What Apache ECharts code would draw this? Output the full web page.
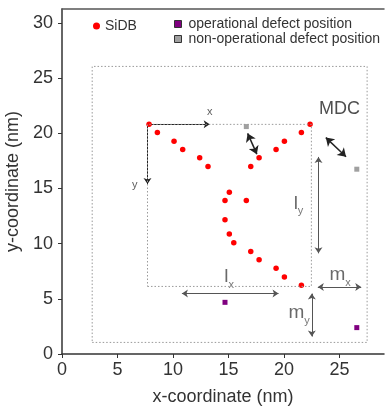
<!DOCTYPE html>
<html>
<head>
<meta charset="utf-8">
<script src="https://cdn.jsdelivr.net/npm/echarts@6/dist/echarts.min.js"></script>
<style>
  html, body { margin: 0; padding: 0; background: #fff; }
  #chart { width: 385px; height: 409px; }
</style>
</head>
<body>
<div id="chart"></div>
<script>
// SiDB positions (nm)
const sidbX = [7.84, 8.59, 10.09, 10.87, 12.4, 13.15, 17.0, 17.75, 19.28, 20.03, 21.56, 22.34,
  15.07, 14.68, 16.6, 14.68, 15.07, 15.47, 17.0, 17.75, 19.28, 20.03, 21.56];
const sidbY = [20.8, 20.06, 19.28, 18.52, 17.77, 16.99, 16.99, 17.77, 18.52, 19.28, 20.06, 20.8,
  14.66, 13.91, 13.91, 12.16, 10.86, 10.08, 9.29, 8.54, 7.76, 6.97, 6.22];

// defect positions (nm)
const operationalX = [14.68, 26.55];
const operationalY = [4.68, 2.39];
const nonOperationalX = [16.6, 26.55];
const nonOperationalY = [20.6, 16.74];

// dotted boxes: [x0, y0, x1, y1]
const outerBox = [2.72, 1.05, 27.48, 26.05];
const layoutBox = [7.7, 6.12, 22.46, 20.8];

// arrows: [x0, y0, x1, y1]
const axisArrows = [[7.7, 20.8, 13.3, 20.8], [7.7, 20.8, 7.7, 15.4]];
const mdcArrows = [[16.72, 19.98, 17.55, 18.1], [23.76, 19.6, 25.58, 17.87]];
const dimArrows = [[23.1, 17.85, 23.1, 9.12], [10.8, 5.47, 19.5, 5.47],
  [23.04, 6.06, 26.95, 6.06], [22.5, 5.47, 22.5, 1.58]];

// annotations
const smallLabels = ['x', 'y'];
const smallLabelX = [13.3, 6.55];
const smallLabelY = [21.95, 15.3];
const mdcLabel = 'MDC';
const mdcLabelPos = [25.0, 22.2];
const dimMain = ['l', 'l', 'm', 'm'];
const dimSub = ['y', 'x', 'x', 'y'];
const dimLabelX = [21.3, 15.05, 25.05, 21.35];
const dimLabelY = [13.65, 7.0, 7.2, 3.75];

const FONT = 'Liberation Sans, Arial, Helvetica, sans-serif';

function boxPath(b) {
  return [[b[0], b[1]], [b[2], b[1]], [b[2], b[3]], [b[0], b[3]], [b[0], b[1]]];
}
function arrowData(list) {
  return list.map(a => ({ coords: [[a[0], a[1]], [a[2], a[3]]] }));
}

const chart = echarts.init(document.getElementById('chart'));
chart.setOption({
  animation: false,
  backgroundColor: '#fff',
  textStyle: { fontFamily: FONT },
  grid: { left: 62, right: 1, top: 9, bottom: 55, containLabel: false, outerBoundsMode: 'none' },
  legend: [
    {
      left: 88, top: 14, itemWidth: 7, itemHeight: 7,
      textStyle: { fontSize: 14, color: '#333', fontFamily: FONT },
      data: [{ name: 'SiDB', icon: 'circle' }]
    },
    {
      left: 169, top: 12, orient: 'vertical', itemGap: 1, itemWidth: 7, itemHeight: 7,
      textStyle: { fontSize: 14, color: '#333', fontFamily: FONT, padding: [0, 0, 0, 2] },
      data: [
        { name: 'operational defect position', icon: 'rect', itemStyle: { borderColor: '#333', borderWidth: 1 } },
        { name: 'non-operational defect position', icon: 'rect', itemStyle: { borderColor: '#333', borderWidth: 1 } }
      ]
    }
  ],
  xAxis: [
    {
      type: 'value', min: 0, max: 29, interval: 5,
      name: 'x-coordinate (nm)', nameLocation: 'middle', nameGap: 34,
      nameTextStyle: { fontSize: 18, color: '#333', fontFamily: FONT },
      axisLine: { show: true, lineStyle: { color: '#333', width: 1.5 } },
      axisTick: { show: true, length: 4, lineStyle: { color: '#333' } },
      axisLabel: { fontSize: 18, color: '#333', margin: 7, showMaxLabel: false, fontFamily: FONT },
      splitLine: { show: false }
    },
    {
      type: 'value', position: 'top', min: 0, max: 29,
      axisLine: { show: true, lineStyle: { color: '#555', width: 1.5 } },
      axisTick: { show: false }, axisLabel: { show: false }, splitLine: { show: false }
    }
  ],
  yAxis: {
    type: 'value', min: 0, max: 31.25, interval: 5,
    name: 'y-coordinate (nm)', nameLocation: 'middle', nameGap: 35,
    nameTextStyle: { fontSize: 18, color: '#333', fontFamily: FONT },
    axisLine: { show: true, lineStyle: { color: '#333', width: 1.5 } },
    axisTick: { show: true, length: 4, lineStyle: { color: '#333' } },
    axisLabel: { fontSize: 18, color: '#333', margin: 9, showMaxLabel: false, fontFamily: FONT },
    splitLine: { show: false }
  },
  series: [
    {
      type: 'line', data: boxPath(outerBox), symbol: 'none', silent: true,
      lineStyle: { color: '#999', width: 1, type: [1.5, 2] }
    },
    {
      type: 'line', data: boxPath(layoutBox), symbol: 'none', silent: true,
      lineStyle: { color: '#999', width: 1, type: [1.5, 2] }
    },
    {
      type: 'lines', coordinateSystem: 'cartesian2d', data: arrowData(axisArrows),
      symbol: ['none', 'arrow'], symbolSize: 6,
      lineStyle: { color: '#222', width: 1, opacity: 1 }
    },
    {
      type: 'lines', coordinateSystem: 'cartesian2d', data: arrowData(mdcArrows),
      symbol: ['arrow', 'arrow'], symbolSize: 8,
      lineStyle: { color: '#222', width: 1.5, opacity: 1 }
    },
    {
      type: 'lines', coordinateSystem: 'cartesian2d', data: arrowData(dimArrows),
      symbol: ['arrow', 'arrow'], symbolSize: 6,
      lineStyle: { color: '#555', width: 1, opacity: 1 }
    },
    {
      name: 'SiDB', type: 'scatter', symbol: 'circle', symbolSize: 5.5,
      itemStyle: { color: '#ff0000', opacity: 1 },
      data: sidbX.map((x, i) => [x, sidbY[i]])
    },
    {
      name: 'operational defect position', type: 'scatter', symbol: 'rect', symbolSize: 5,
      itemStyle: { color: '#800080', opacity: 1 },
      data: operationalX.map((x, i) => [x, operationalY[i]])
    },
    {
      name: 'non-operational defect position', type: 'scatter', symbol: 'rect', symbolSize: 5,
      itemStyle: { color: '#a0a0a0', opacity: 1 },
      data: nonOperationalX.map((x, i) => [x, nonOperationalY[i]])
    },
    {
      type: 'scatter', symbolSize: 0, silent: true,
      label: { show: true, position: 'inside', color: '#333', fontSize: 11, fontFamily: FONT, formatter: p => p.data.text },
      data: smallLabels.map((t, i) => ({ value: [smallLabelX[i], smallLabelY[i]], text: t }))
    },
    {
      type: 'scatter', symbolSize: 0, silent: true,
      label: { show: true, position: 'inside', color: '#222', fontSize: 18, fontFamily: FONT, formatter: p => p.data.text },
      data: [{ value: mdcLabelPos, text: mdcLabel }]
    },
    {
      type: 'scatter', symbolSize: 0, silent: true,
      label: {
        show: true, position: 'inside', color: '#444', fontFamily: FONT,
        formatter: p => '{m|' + p.data.main + '}{s|' + p.data.sub + '}',
        rich: {
          m: { fontSize: 19, color: '#444', fontFamily: FONT, verticalAlign: 'bottom' },
          s: { fontSize: 11, color: '#555', fontFamily: FONT, verticalAlign: 'bottom', padding: [0, 0, -4, 0] }
        }
      },
      data: dimMain.map((t, i) => ({ value: [dimLabelX[i], dimLabelY[i]], main: t, sub: dimSub[i] }))
    }
  ]
});
</script>
</body>
</html>
